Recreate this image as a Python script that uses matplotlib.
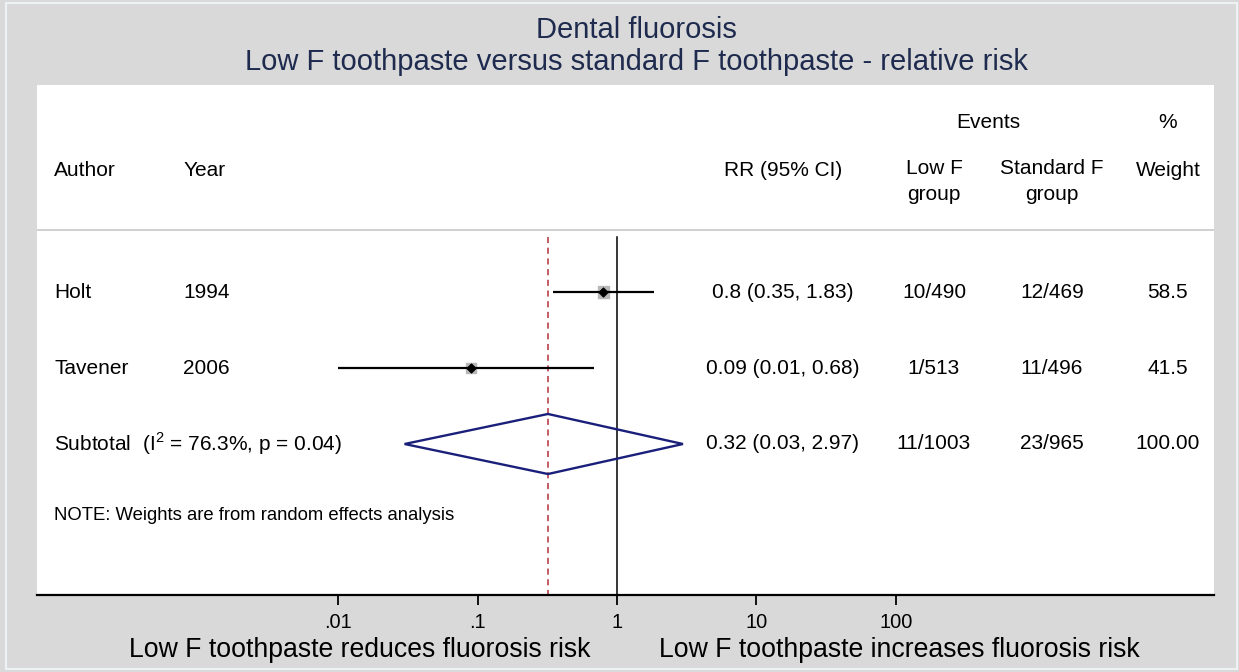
import matplotlib
matplotlib.use("Agg")
import matplotlib.pyplot as plt
from matplotlib.patches import Polygon, Rectangle
import numpy as np

plt.rcParams['font.family'] = ['Liberation Sans', 'DejaVu Sans']
plt.rcParams['mathtext.fontset'] = 'custom'
plt.rcParams['mathtext.rm'] = 'Liberation Sans'

# study data
authors = ['Holt', 'Tavener']
years = ['1994', '2006']
rr = [0.8, 0.09]
ci_lo = [0.35, 0.01]
ci_hi = [1.83, 0.68]
rr_text = ['0.8 (0.35, 1.83)', '0.09 (0.01, 0.68)']
low_events = ['10/490', '1/513']
std_events = ['12/469', '11/496']
weights = [58.5, 41.5]

# pooled
pooled_rr = 0.32
pooled_lo = 0.03
pooled_hi = 2.97
pooled_text = '0.32 (0.03, 2.97)'
pooled_low = '11/1003'
pooled_std = '23/965'
pooled_weight = '100.00'

xticks = [0.01, 0.1, 1, 10, 100]
xticklabels = ['.01', '.1', '1', '10', '100']

W, H = 1239, 672
fig = plt.figure(figsize=(W / 100, H / 100), dpi=100)
fig.patch.set_facecolor('#d9d9d9')
fig.patches.append(Rectangle((6 / W, 0.004), 1 - 8 / W, 0.992, transform=fig.transFigure,
                             fill=False, edgecolor='#eef2f4', lw=1.5))

ax = fig.add_axes([37 / W, (H - 595) / H, (1214 - 37) / W, (595 - 85) / H])
ax.set_xscale('log')
ax.set_xlim(10 ** -4.158, 10 ** 4.28)
ax.set_ylim(4.987, -1.724)
for s in ['top', 'left', 'right']:
    ax.spines[s].set_visible(False)
ax.spines['bottom'].set_linewidth(1.6)
ax.set_yticks([])
ax.set_xticks(xticks)
ax.set_xticklabels(xticklabels, fontsize=14.4)
ax.minorticks_off()
ax.tick_params(axis='x', direction='out', length=7, width=1.3, pad=6)


def xpos(px):
    # pixel column -> data x on the log axis
    return 10 ** ((px - 617) / 139.5)


rows = np.arange(1, len(authors) + 1)
sub_row = len(authors) + 1

# header separator
ax.axhline(0.184, color='#c8c8c8', lw=1.2)

# reference lines
ax.plot([1, 1], [0.276, 4.987], color='black', lw=1.1)
ax.plot([pooled_rr, pooled_rr], [0.276, 4.987], color='#b5303a', lw=1.1, dashes=(4, 3))

# study CIs, boxes and points
ax.hlines(rows, ci_lo, ci_hi, color='black', lw=1.6, zorder=3)
ax.scatter(rr, rows, marker='s', s=np.array(weights) * 1.08, color='#b8b8b8', zorder=2)
ax.scatter(rr, rows, marker='D', s=20, color='black', zorder=4)

# pooled diamond
diamond = Polygon([[pooled_lo, sub_row], [pooled_rr, sub_row - 0.395],
                   [pooled_hi, sub_row], [pooled_rr, sub_row + 0.395]],
                  closed=True, fill=False, edgecolor='#1a1f7a', lw=1.7, zorder=5)
ax.add_patch(diamond)

# text columns
fs = 15
x_auth = xpos(54)
x_year = xpos(183)
x_rr = xpos(783)
x_low = xpos(934)
x_std = xpos(1052)
x_wt = xpos(1168)
x_ev = xpos(988)

ax.text(x_ev, -1.224, 'Events', ha='center', va='center', fontsize=fs)
ax.text(x_wt, -1.224, '%', ha='center', va='center', fontsize=fs)
ax.text(x_auth, -0.605, 'Author', ha='left', va='center', fontsize=fs)
ax.text(x_year, -0.605, 'Year', ha='left', va='center', fontsize=fs)
ax.text(x_rr, -0.605, 'RR (95% CI)', ha='center', va='center', fontsize=fs)
ax.text(x_low, -0.63, 'Low F', ha='center', va='center', fontsize=fs)
ax.text(x_low, -0.28, 'group', ha='center', va='center', fontsize=fs)
ax.text(x_std, -0.63, 'Standard F', ha='center', va='center', fontsize=fs)
ax.text(x_std, -0.28, 'group', ha='center', va='center', fontsize=fs)
ax.text(x_wt, -0.605, 'Weight', ha='center', va='center', fontsize=fs)

for i, r in enumerate(rows):
    ax.text(x_auth, r, authors[i], ha='left', va='center', fontsize=fs)
    ax.text(x_year, r, years[i], ha='left', va='center', fontsize=fs)
    ax.text(x_rr, r, rr_text[i], ha='center', va='center', fontsize=fs)
    ax.text(x_low, r, low_events[i], ha='center', va='center', fontsize=fs)
    ax.text(x_std, r, std_events[i], ha='center', va='center', fontsize=fs)
    ax.text(x_wt, r, f'{weights[i]:.1f}', ha='center', va='center', fontsize=fs)

ax.text(x_auth, sub_row, r'Subtotal  (I$^{\mathrm{2}}$ = 76.3%, p = 0.04)', ha='left', va='center', fontsize=fs)
ax.text(x_rr, sub_row, pooled_text, ha='center', va='center', fontsize=fs)
ax.text(x_low, sub_row, pooled_low, ha='center', va='center', fontsize=fs)
ax.text(x_std, sub_row, pooled_std, ha='center', va='center', fontsize=fs)
ax.text(x_wt, sub_row, pooled_weight, ha='center', va='center', fontsize=fs)
ax.text(x_auth, 3.947, 'NOTE: Weights are from random effects analysis', ha='left', va='center', fontsize=13.3)

# titles and favours labels
title_color = '#1e2b4e'
fig.text(636 / W, 1 - 38 / H, 'Dental fluorosis', ha='center', va='baseline', fontsize=21, color=title_color)
fig.text(636 / W, 1 - 70 / H, 'Low F toothpaste versus standard F toothpaste - relative risk',
         ha='center', va='baseline', fontsize=21, color=title_color)
fig.text(360 / W, 1 - 657 / H, 'Low F toothpaste reduces fluorosis risk', ha='center', va='baseline', fontsize=19.2)
fig.text(899 / W, 1 - 657 / H, 'Low F toothpaste increases fluorosis risk', ha='center', va='baseline', fontsize=19.2)

fig.savefig('out.png', dpi=100, facecolor=fig.get_facecolor())
